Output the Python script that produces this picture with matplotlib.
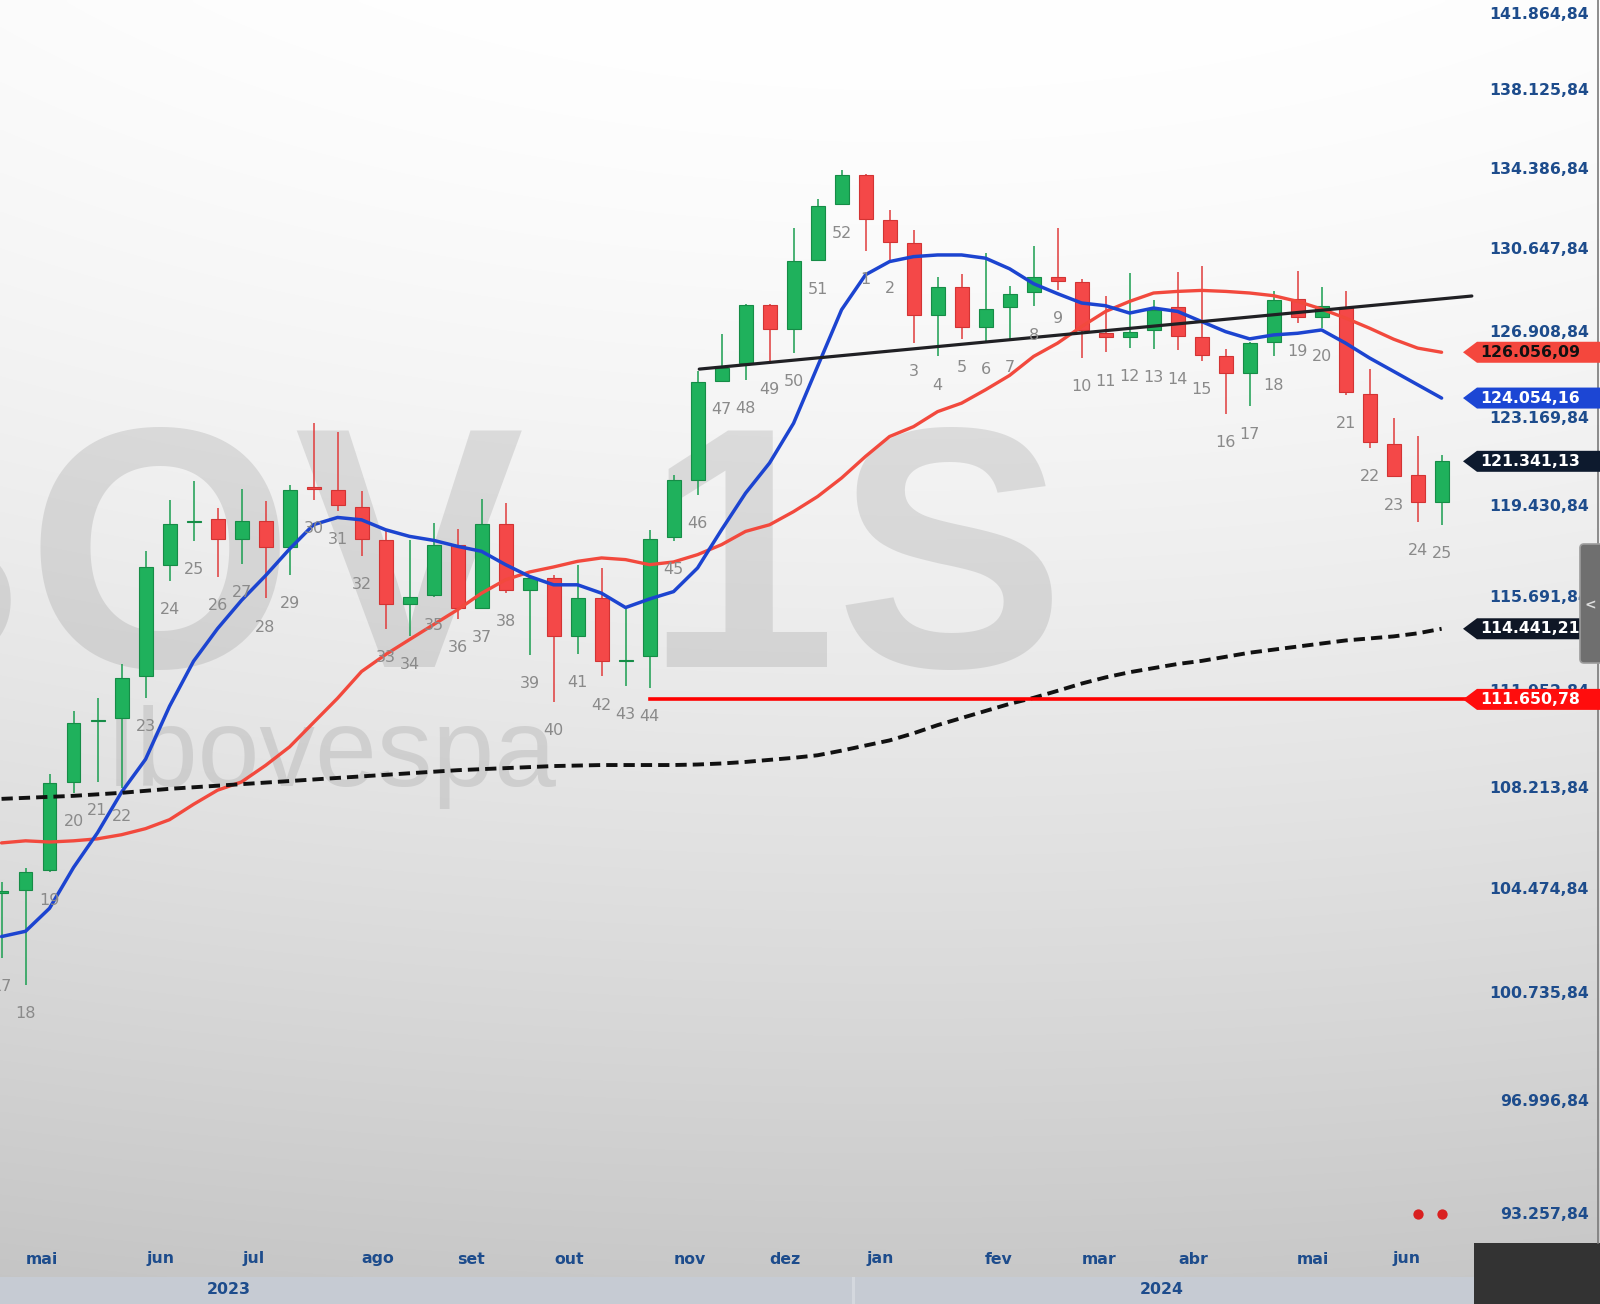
import numpy as np
import matplotlib
matplotlib.use("Agg")
import matplotlib.pyplot as plt
from matplotlib import transforms as mtransforms
from matplotlib.patches import Polygon, Rectangle, FancyBboxPatch

W, H = 1600, 1304

# weekly candles, week-of-year labels (2023 wk17 .. 2024 wk25)
weeks = list(range(17, 53)) + list(range(1, 26))

opens = [104330, 104446, 105174, 108476, 110800, 110910, 112550, 117006, 118790, 118901,
         118095, 118851, 117762, 120250, 120131, 119439, 118046, 115429, 115803, 117857,
         115269, 118708, 116008, 116487, 114167, 115692, 113150, 113346, 118157, 120563,
         124811, 125585, 128169, 127089, 130193, 132760,
         134119, 132000, 130954, 127688, 128965, 127166, 128047, 128722, 129397, 129172,
         126896, 126747, 127044, 128047, 126747, 125904, 125148, 126502, 128425, 127616,
         128065, 124241, 122076, 120745, 119618]
highs = [104750, 105278, 108788, 111195, 111695, 113036, 117594, 119698, 120512, 119386,
         120165, 119681, 120338, 122983, 122589, 120097, 118473, 118062, 118773, 118514,
         119745, 119575, 116553, 116619, 117035, 116899, 115334, 118444, 120775, 125215,
         126852, 128190, 128190, 131648, 132991, 134350,
         134185, 132463, 131569, 129397, 129564, 130495, 129024, 130829, 131648, 129325,
         128542, 129595, 128394, 129622, 129924, 126196, 126520, 128767, 129699, 128965,
         128767, 125323, 123179, 122428, 121622]
lows = [101990, 101056, 105100, 108054, 108476, 108237, 111695, 116369, 118013, 116537,
        117055, 115663, 116619, 119698, 119238, 117392, 114446, 114139, 115733, 114832,
        115240, 115873, 113414, 111568, 113454, 112550, 112180, 112088, 117993, 119927,
        124790, 124855, 125655, 126022, 130150, 132740,
        130611, 130193, 126485, 125873, 126647, 126572, 126634, 128092, 128844, 125803,
        126048, 126266, 126210, 126135, 125655, 123367, 123716, 125873, 127373, 127121,
        124197, 121907, 120677, 118813, 118677]
closes = [104420, 105130, 108426, 110752, 110863, 112498, 116957, 118716, 118851, 118095,
          118851, 117762, 120131, 120182, 119490, 118095, 115421, 115733, 117857, 115269,
          118708, 116008, 116487, 114167, 115692, 113147, 113215, 118103, 120563, 124752,
          125366, 128169, 127089, 130148, 132681, 134119,
          132068, 131000, 127688, 128965, 127166, 127989, 128650, 129397, 129217, 127044,
          126721, 126967, 127944, 126791, 125948, 125148, 126485, 128394, 127598, 128124,
          124297, 122144, 120732, 119618, 121341.13]

# moving averages
ma_fast = [102767, 102957, 103788, 105279, 106566, 108088, 109338, 111383, 113151, 114448,
           115585, 116588, 117677, 118683, 118983, 118884, 118473, 118198, 118034, 117787,
           117582, 117035, 116554, 116214, 116214, 115873, 115294, 115640, 115938, 116900,
           118473, 119999, 121271, 122967, 125434, 127944,
           129519, 130117, 130342, 130418, 130418, 130270, 129789, 129114, 128664, 128246,
           128124, 127796, 128020, 127868, 127418, 126968, 126647, 126822, 126896, 127044,
           126459, 125803, 125218, 124634, 124054.16]
ma_mid = [106187, 106265, 106220, 106265, 106339, 106492, 106718, 107053, 107630, 108162,
          108476, 109103, 109812, 110752, 111695, 112745, 113414, 114011, 114609, 115206,
          115873, 116419, 116736, 116941, 117172, 117311, 117242, 117035, 117146, 117446,
          117857, 118404, 118679, 119226, 119855, 120635,
          121551, 122398, 122822, 123467, 123834, 124415, 125040, 125873, 126459, 127192,
          127868, 128318, 128695, 128767, 128812, 128767, 128695, 128574, 128318, 127976,
          127571, 127121, 126634, 126240, 126056.09]
ma_slow = [107835, 107873, 107911, 107949, 108006, 108063, 108138, 108214, 108273, 108332,
           108391, 108450, 108509, 108568, 108627, 108686, 108745, 108804, 108863, 108921,
           108961, 109000, 109039, 109079, 109098, 109118, 109118, 109118, 109118, 109138,
           109177, 109236, 109315, 109393, 109491, 109668,
           109865, 110061, 110336, 110651, 110926, 111201, 111476, 111712, 111986, 112270,
           112513, 112716, 112879, 113041, 113163, 113325, 113488, 113610, 113732, 113853,
           113975, 114056, 114137, 114259, 114441.21]

trend_x = [29.07, 61.26]
trend_y = [125316, 128560]
support_start = 27
support_level = 111650.78

event_idx = [59, 60]
event_val = [93257.84, 93257.84]

tag_values = [126056.09, 124054.16, 121341.13, 114441.21, 111650.78]
tag_faces = ['#f4473d', '#1c46d4', '#0d1a2e', '#0f1726', '#ff0d0d']
tag_fonts = ['#111111', 'white', 'white', 'white', 'white']

ytick_vals = [141864.84, 138125.84, 134386.84, 130647.84, 126908.84, 123169.84, 119430.84,
              115691.84, 111952.84, 108213.84, 104474.84, 100735.84, 96996.84, 93257.84]

month_names = ['mai', 'jun', 'jul', 'ago', 'set', 'out', 'nov', 'dez',
               'jan', 'fev', 'mar', 'abr', 'mai', 'jun']
month_pos = [1.68, 6.61, 10.52, 15.67, 19.58, 23.66, 28.68, 32.63,
             36.59, 41.56, 45.73, 49.64, 54.66, 58.54]
year_names = ['2023', '2024']
year_pos = [9.46, 48.35]


def br(v):
    s = f"{v:,.2f}"
    return s.replace(',', 'X').replace('.', ',').replace('X', '.')


fig = plt.figure(figsize=(W / 100, H / 100), dpi=100)

# background: soft gradient, watermark, bottom bands
ax_bg = fig.add_axes([0, 0, 1, 1], zorder=-10)
yy, xx = np.mgrid[0:H:4, 0:W:4]
d = np.sqrt(((xx - 900) / 2.2) ** 2 + (yy + 300) ** 2)
t = np.clip((d - 300) / 1200, 0, 1.15)
g = (255 - 50 * t ** 1.5) / 255
ax_bg.imshow(np.dstack([g, g, g]), extent=[0, W, H, 0], aspect='auto', interpolation='bilinear')
ax_bg.set_xlim(0, W)
ax_bg.set_ylim(H, 0)
ax_bg.axis('off')

wm = dict(fontsize=248, family='Liberation Sans', fontweight='bold',
          color='#808080', alpha=0.21, ha='right', va='baseline')
ax_bg.text(524, 667, 'IBOV', **wm)
ax_bg.text(1066, 667, '1S', **wm)
ax_bg.text(106, 786, 'Ibovespa', fontsize=80, family='Liberation Sans',
           color='#808080', alpha=0.21, ha='left', va='baseline')

ax_bg.add_patch(Rectangle((0, 1277), 1474, 27, color='#c6cbd3', lw=0))
ax_bg.add_patch(Rectangle((852, 1277), 3, 27, color='#d4d8de', lw=0))
ax_bg.add_patch(Rectangle((1474, 1243), 126, 61, color='#333333', lw=0))
ax_bg.plot([1597.5, 1597.5], [0, 1243], color='#7a7a7a', lw=1.2)

# price panel
ax = fig.add_axes([0, 61 / H, 1474 / W, 1243 / H])
ax.set_facecolor('none')
ax.set_yscale('log')
ax.set_xlim(-0.064, 61.35)
ax.set_ylim(92327, 142576)
ax.set_xticks([])
ax.set_yticks([])
ax.yaxis.set_minor_locator(matplotlib.ticker.NullLocator())
for s in ax.spines.values():
    s.set_visible(False)

x = np.arange(len(weeks))
O = np.array(opens)
C = np.array(closes)
up = C >= O
body_col = np.where(up, '#1fb15c', '#f44848')
edge_col = np.where(up, '#168c47', '#d23434')
wick_col = np.where(up, '#1a9e50', '#e03c3c')

ax.vlines(x, lows, highs, colors=wick_col, lw=1.1, zorder=2)
ax.bar(x, np.abs(C - O), bottom=np.minimum(O, C), width=0.58, color=body_col,
       edgecolor=edge_col, linewidth=0.8, zorder=3)

ax.plot(x, ma_mid, color='#f2493d', lw=2.4, zorder=4, solid_capstyle='round')
ax.plot(x, ma_fast, color='#1c44d0', lw=2.5, zorder=4, solid_capstyle='round')
ax.plot(x, ma_slow, color='#111111', lw=2.8, dashes=(2.9, 1.55), zorder=4)
ax.plot(trend_x, trend_y, color='#202024', lw=2.3, zorder=5, solid_capstyle='round')
ax.plot([support_start, 62], [support_level, support_level], color='#ff0000', lw=2.6, zorder=5)

for i, (w, lo) in enumerate(zip(weeks, lows)):
    ax.annotate(str(w), (i, lo), xytext=(0, -20.6), textcoords='offset points',
                ha='center', va='center', fontsize=11.5, color='#8a8a8a', zorder=6)

ax.scatter(event_idx, event_val, s=55, color='#d92020', linewidths=0, zorder=6)

# right price scale
ytrans = mtransforms.blended_transform_factory(fig.transFigure, ax.transData)
for v in ytick_vals:
    fig.text(1589 / W, v, br(v), transform=ytrans, ha='right', va='center',
             fontsize=11.3, fontweight='bold', color='#1d4c8c', zorder=0.5)

ident = mtransforms.IdentityTransform()
for v, fc, tc in zip(tag_values, tag_faces, tag_fonts):
    yd = ax.transData.transform((0, v))[1]
    h = 10.5
    verts = [(1463, yd), (1477, yd + h), (1600, yd + h), (1600, yd - h), (1477, yd - h)]
    fig.add_artist(Polygon(verts, closed=True, facecolor=fc, edgecolor='none',
                           transform=ident, zorder=1))
    fig.text(1480 / W, v, br(v), transform=ytrans, ha='left', va='center',
             fontsize=11.3, fontweight='bold', color=tc, zorder=2)

# scroll handle on the right edge
fig.add_artist(FancyBboxPatch((1580, H - 663), 26, 119, boxstyle='round,pad=0,rounding_size=4',
                              facecolor='#6f6f6f', edgecolor='#9c9c9c', lw=1.2,
                              transform=ident, zorder=5))
fig.text(1590, H - 605, '<', transform=ident, ha='center', va='center',
         fontsize=10, fontweight='bold', color='#dcdcdc', zorder=6)

# time axis
mtrans = mtransforms.blended_transform_factory(ax.transData, fig.transFigure)
for name, pos in zip(month_names, month_pos):
    fig.text(pos, (H - 1259) / H, name, transform=mtrans, ha='center', va='center',
             fontsize=11.3, fontweight='bold', color='#1d4c8c')
for name, pos in zip(year_names, year_pos):
    fig.text(pos, (H - 1290) / H, name, transform=mtrans, ha='center', va='center',
             fontsize=11.3, fontweight='bold', color='#1d4c8c')

fig.savefig('out.png', dpi=100)
